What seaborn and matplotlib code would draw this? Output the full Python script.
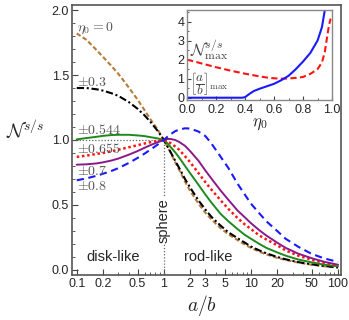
import numpy as np
import pandas as pd
import matplotlib
matplotlib.use("Agg")
import matplotlib.pyplot as plt
import seaborn as sns
from matplotlib.ticker import FixedLocator, MultipleLocator, NullFormatter, FormatStrFormatter

# a/b grid
ratio = [0.1, 0.13, 0.17, 0.2, 0.25, 0.3, 0.4, 0.5, 0.6, 0.7, 0.85, 1,
         1.1, 1.2, 1.35, 1.5, 1.75, 2, 2.5, 3, 3.5, 4.5, 5.5, 7, 8.5, 10,
         12.5, 15, 20, 25, 35, 50, 70, 100]

n_eta_0 = [1.82, 1.77, 1.69, 1.64, 1.57, 1.51, 1.40, 1.31, 1.23, 1.16, 1.08, 1.00,
           0.95, 0.90, 0.83, 0.77, 0.68, 0.61, 0.51, 0.44, 0.39, 0.32, 0.275, 0.23, 0.195, 0.17,
           0.14, 0.12, 0.093, 0.077, 0.057, 0.04, 0.028, 0.018]
n_eta_03 = [1.40, 1.40, 1.39, 1.38, 1.36, 1.34, 1.29, 1.24, 1.19, 1.14, 1.07, 1.00,
            0.95, 0.905, 0.84, 0.785, 0.70, 0.635, 0.535, 0.465, 0.41, 0.34, 0.29, 0.245, 0.21, 0.18,
            0.15, 0.128, 0.10, 0.082, 0.06, 0.043, 0.03, 0.02]
n_eta_0544 = [1.005, 1.015, 1.025, 1.032, 1.038, 1.04, 1.04, 1.035, 1.03, 1.022, 1.012, 1.00,
              0.975, 0.945, 0.905, 0.865, 0.80, 0.745, 0.655, 0.58, 0.52, 0.43, 0.375, 0.315, 0.27, 0.24,
              0.20, 0.17, 0.135, 0.11, 0.08, 0.058, 0.04, 0.028]
n_eta_0655 = [0.87, 0.88, 0.893, 0.90, 0.913, 0.925, 0.945, 0.96, 0.973, 0.983, 0.993, 1.00,
              0.99, 0.975, 0.95, 0.925, 0.875, 0.83, 0.745, 0.675, 0.62, 0.535, 0.47, 0.40, 0.35, 0.315,
              0.265, 0.235, 0.19, 0.15, 0.11, 0.078, 0.054, 0.035]
n_eta_07 = [0.81, 0.813, 0.82, 0.828, 0.842, 0.857, 0.888, 0.915, 0.94, 0.96, 0.983, 1.00,
            1.008, 1.008, 1.0, 0.985, 0.955, 0.915, 0.84, 0.765, 0.705, 0.61, 0.54, 0.458, 0.405, 0.36,
            0.305, 0.265, 0.21, 0.17, 0.125, 0.09, 0.062, 0.04]
n_eta_08 = [0.69, 0.705, 0.725, 0.74, 0.762, 0.783, 0.825, 0.862, 0.895, 0.925, 0.965, 1.00,
            1.025, 1.045, 1.068, 1.08, 1.09, 1.088, 1.065, 1.03, 0.975, 0.87, 0.785, 0.665, 0.58, 0.51,
            0.435, 0.375, 0.30, 0.24, 0.178, 0.123, 0.088, 0.062]

curve_names = ["0", "0.3", "0.544", "0.655", "0.7", "0.8"]
curve_values = [n_eta_0, n_eta_03, n_eta_0544, n_eta_0655, n_eta_07, n_eta_08]
curve_labels = [r"$\eta_0=0$", r"$\pm 0.3$", r"$\pm 0.544$", r"$\pm 0.655$", r"$\pm 0.7$", r"$\pm 0.8$"]
label_y = [1.86, 1.45, 1.08, 0.93, 0.76, 0.645]

# inset: maximum of N^{s/s} and its position vs eta_0
eta_red = [0, 0.1, 0.2, 0.3, 0.4, 0.5, 0.55, 0.6, 0.65, 0.7, 0.75, 0.8, 0.85, 0.9, 0.93, 0.95, 0.97, 0.98, 0.99]
n_max = [2.0, 1.8, 1.6, 1.42, 1.26, 1.12, 1.06, 1.02, 1.0, 1.01, 1.04, 1.09, 1.25, 1.5, 1.85, 2.4, 3.4, 3.85, 4.15]
eta_blue = [0, 0.2, 0.38, 0.4, 0.43, 0.46, 0.5, 0.55, 0.6, 0.65, 0.7, 0.75, 0.8, 0.85, 0.9, 0.93, 0.95]
ab_max = [0, 0, 0, 0.03, 0.2, 0.35, 0.47, 0.6, 0.73, 0.92, 1.15, 1.5, 1.9, 2.35, 3.0, 3.7, 4.6]

styles = {
    "0": dict(color="#b57a3c", linestyle=(0, (2.2, 1.2)), lw=1.5),
    "0.3": dict(color="black", linestyle=(0, (3.5, 1.3, 1, 1.3)), lw=1.5),
    "0.544": dict(color="#1c8a1c", linestyle="-", lw=1.4),
    "0.655": dict(color="#ff1414", linestyle=(0, (1, 1.1)), lw=1.8),
    "0.7": dict(color="#8a1a8a", linestyle="-", lw=1.4),
    "0.8": dict(color="#1a1aff", linestyle=(0, (3.5, 2.2)), lw=1.5),
}

sns.set_style("ticks")
plt.rcParams["font.family"] = ["Liberation Sans", "DejaVu Sans"]
plt.rcParams["mathtext.fontset"] = "cm"

fig = plt.figure(figsize=(3.49, 3.2), dpi=100)
ax = fig.add_axes([0.206, 0.141, 0.771, 0.843])
ax.set_xscale("log")

df = pd.concat([pd.DataFrame({"ratio": ratio, "N": v, "eta": n})
                for n, v in zip(curve_names, curve_values)])

ax.plot([0.05, 1], [1, 1], color="#666666", lw=0.9, linestyle=(0, (1, 1.5)))
ax.plot([1, 1], [-0.1, 1], color="#666666", lw=0.9, linestyle=(0, (1, 1.5)))

for n in curve_names:
    st = styles[n]
    sns.lineplot(data=df[df["eta"] == n], x="ratio", y="N", ax=ax,
                 color=st["color"], linestyle=st["linestyle"], lw=st["lw"])

for lab, yy in zip(curve_labels, label_y):
    ax.text(0.1, yy, lab, ha="left", va="center", fontsize=10, color="#555555")

ax.text(0.26, 0.10, "disk-like", ha="center", va="center", fontsize=10.5)
ax.text(3.2, 0.10, "rod-like", ha="center", va="center", fontsize=10.5)
ax.text(1, 0.38, "sphere", ha="center", va="center", rotation=90, fontsize=10.5,
        bbox=dict(facecolor="white", edgecolor="none", pad=0.5))

ax.set_xlim(0.088, 108)
ax.set_ylim(-0.038, 2.038)
ax.xaxis.set_major_locator(FixedLocator([0.1, 0.2, 0.5, 1, 2, 3, 5, 10, 20, 50, 100]))
ax.set_xticklabels(["0.1", "0.2", "0.5", "1", "2", "3", "5", "10", "20", "50", "100"])
ax.xaxis.set_minor_locator(FixedLocator([0.3, 0.4, 0.6, 0.7, 0.8, 0.9, 4, 6, 7, 8, 9, 30, 40, 60, 70, 80, 90]))
ax.xaxis.set_minor_formatter(NullFormatter())
ax.yaxis.set_major_locator(MultipleLocator(0.5))
ax.yaxis.set_minor_locator(MultipleLocator(0.1))
ax.yaxis.set_major_formatter(FormatStrFormatter("%.1f"))
ax.tick_params(which="both", direction="in", labelsize=9, pad=2, color="#444444")
ax.tick_params(which="major", length=4)
ax.tick_params(which="minor", length=2)
ax.set_xlabel("")
ax.set_ylabel("")
for sp in ax.spines.values():
    sp.set_visible(True)
    sp.set_color("#555555")
    sp.set_linewidth(1.2)

fig.text(0.072, 0.594, r"$\mathcal{N}^{s/s}$", ha="center", va="center", fontsize=14)
fig.text(0.579, 0.044, r"$a/b$", ha="center", va="center", fontsize=14)

# inset
ins = fig.add_axes([0.536, 0.6875, 0.4155, 0.281])
ins.set_facecolor("white")
sns.lineplot(x=eta_red, y=n_max, ax=ins, color="#ff1414", linestyle=(0, (3, 1.6)), lw=1.5)
sns.lineplot(x=eta_blue, y=ab_max, ax=ins, color="#1a1aff", linestyle="-", lw=1.5)
ins.set_xlim(0, 1)
ins.set_ylim(-0.12, 4.6)
ins.xaxis.set_major_locator(MultipleLocator(0.2))
ins.xaxis.set_minor_locator(MultipleLocator(0.1))
ins.xaxis.set_major_formatter(FormatStrFormatter("%.1f"))
ins.yaxis.set_major_locator(MultipleLocator(1))
ins.yaxis.set_minor_locator(MultipleLocator(0.5))
ins.tick_params(which="both", direction="in", labelsize=9, pad=2, color="#444444")
ins.tick_params(axis="x", which="major", pad=3)
ins.tick_params(which="major", length=3)
ins.tick_params(which="minor", length=1.5)
for sp in ins.spines.values():
    sp.set_visible(True)
    sp.set_color("#888888")
    sp.set_linewidth(1.0)
ins.set_xlabel(r"$\eta_0$", fontsize=12, labelpad=0)
ins.set_ylabel("")
ins.text(0.02, 2.5, r"$\mathcal{N}^{s/s}_{\max}$", ha="left", va="center", fontsize=12, color="#444444")
ins.text(0.02, 0.72, r"$\left[\dfrac{a}{b}\right]_{\max}$", ha="left", va="center", fontsize=9.5, color="#444444")

fig.savefig("out.png", dpi=100)
